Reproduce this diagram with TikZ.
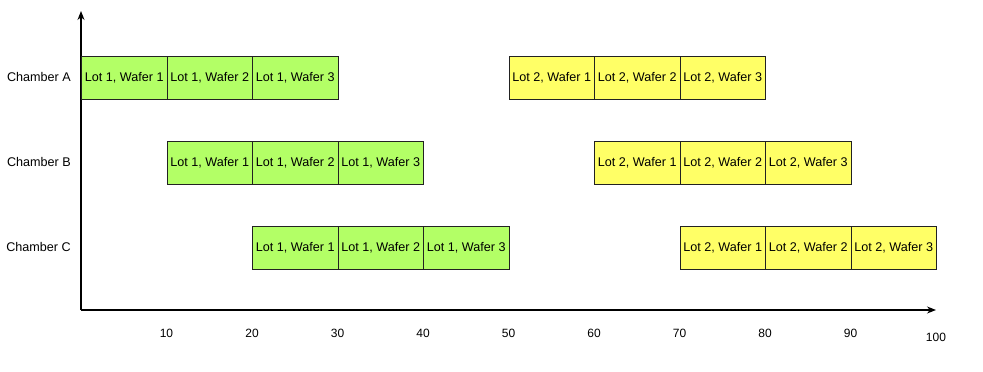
\documentclass[tikz,border=0pt]{standalone}
\usepackage{fontspec}
\setmainfont{Liberation Sans}
\usetikzlibrary{arrows.meta}
\definecolor{lotone}{HTML}{B3FF66}
\definecolor{lottwo}{HTML}{FFFF66}
\definecolor{edge}{HTML}{222222}
\begin{document}
\begin{tikzpicture}[x=1pt,y=-1pt,
  wafer/.style={draw=edge,line width=0.9pt,minimum width=85.5pt,minimum height=42.5pt,
    anchor=north west,inner sep=0pt,font=\fontsize{12.6}{14}\selectfont},
  lotA/.style={wafer,fill=lotone},
  lotB/.style={wafer,fill=lottwo},
  chamber/.style={anchor=east,inner sep=0pt,font=\fontsize{12.6}{14}\selectfont},
  tick/.style={inner sep=0pt,font=\fontsize{12}{14}\selectfont},
  axis/.style={draw=black,line width=1.2pt,-{Stealth[length=9pt,width=7pt]}}]
\useasboundingbox (0,0) rectangle (983,372);
\coordinate (O) at (81,310);
\coordinate (xend) at (936,310);
\coordinate (yend) at (81,11);
\draw[axis] (O) -- (xend);
\draw[axis] (O) -- (yend);
% rows
\foreach \row/\top/\cy/\sA/\sB in {A/56/77/0/50, B/141/162/10/60, C/226/247/20/70}{
  \node[chamber] (ch\row) at (71,\cy) {Chamber \row};
  \foreach \w in {1,2,3}{
    \pgfmathsetmacro{\xa}{81+8.55*(\sA+10*(\w-1))}
    \pgfmathsetmacro{\xb}{81+8.55*(\sB+10*(\w-1))}
    \node[lotA] (one\row\w) at (\xa,\top) {Lot 1, Wafer \w};
    \node[lotB] (two\row\w) at (\xb,\top) {Lot 2, Wafer \w};
  }
}
% tick labels
\foreach \t in {10,20,...,90}{
  \pgfmathsetmacro{\xt}{81+8.55*\t}
  \node[tick] (t\t) at (\xt,333) {\t};
}
\node[tick] (t100) at (936,337) {100};
\end{tikzpicture}
\end{document}
